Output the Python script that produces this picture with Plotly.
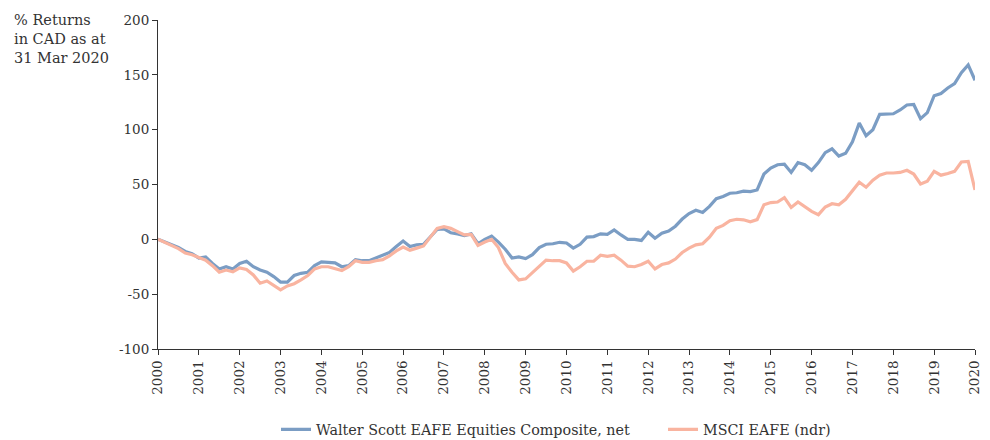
import plotly.graph_objects as go

# Bi-monthly observations, Jan 2000 .. Jan 2020 (decimal years)
years = [2000 + k / 6 for k in range(121)]

walter_scott = [
    0, -2.5, -5, -7.5, -11, -13,
    -17, -16, -22, -27, -25, -27,
    -22, -20, -25, -28, -30, -34,
    -39, -39, -33, -31, -30, -24,
    -20.5, -21, -21.5, -25, -24, -18.5,
    -19.5, -19.5, -17, -15, -12, -6.5,
    -1.5, -6.5, -5, -4.5, 2.5, 9,
    9.5, 6, 5, 3.5, 5, -4,
    0, 3, -2.5, -9, -17, -16,
    -17.5, -14, -7.5, -4.5, -4, -2.7,
    -3.3, -8, -4.5, 2, 2.5, 5,
    4.5, 8.5, 4, 0, 0, -1,
    6.5, 1, 5.5, 7.5, 12, 18.5,
    23.5, 26.5, 24.5, 30, 37, 39,
    42, 42.5, 44, 43.5, 45, 59.5,
    65, 68, 68.5, 61, 70, 68,
    63, 70, 79, 82.5, 76, 78.5,
    89, 106, 94.5, 100, 114, 114.5,
    114.5, 118, 122.5, 123, 110, 115.5,
    131, 133, 138, 142, 152, 159,
    145,
]

msci_eafe = [
    0, -3, -5.5, -8.5, -12.5, -14,
    -16.5, -19, -24, -30, -28, -29.5,
    -26, -27.5, -32.5, -40, -38, -42,
    -46, -42.5, -40.5, -37, -33, -27,
    -25, -25, -26.5, -28.5, -25, -19.5,
    -21, -21, -19.5, -18.5, -15, -10.5,
    -7, -10, -8, -6, 2, 10,
    11.5, 10, 7, 4, 4.5, -5.5,
    -2.5, 0, -7.5, -22, -30, -37,
    -36, -30, -25, -19, -19.5, -19.5,
    -21.5, -29, -25, -20, -20, -14.5,
    -15.5, -14.5, -19, -24.5, -25, -23,
    -20, -27, -23, -21.5, -18, -12,
    -8, -5, -4, 2, 10, 12.7,
    17, 18.3, 17.8, 16, 18, 31.5,
    33.5, 34, 38, 29, 34, 30,
    25.5, 22.5, 29.5, 32.5, 31.5, 36.5,
    44, 52, 47.5, 54, 58.5, 60.5,
    60.5, 61, 63, 59.5, 50.5, 53,
    62, 58.5, 60, 62, 70.5, 71,
    45,
]

x_ticks = list(range(2000, 2021))
y_ticks = [-100, -50, 0, 50, 100, 150, 200]
y_tick_text = ["-100", "-50", "0", "50", "100", "150", "200"]

series_names = ["Walter Scott EAFE Equities Composite, net", "MSCI EAFE (ndr)"]
series_colors = ["#7B9DC4", "#F9B4A0"]
legend_ids = ["legend", "legend2"]

FONT = "DejaVu Serif"
TEXT = "#333333"

fig = go.Figure()
for name, vals, col, lg in zip(series_names, [walter_scott, msci_eafe], series_colors, legend_ids):
    fig.add_trace(go.Scatter(
        x=years, y=vals, mode="lines", name=name, legend=lg,
        line=dict(color=col, width=3.2),
    ))

legend_style = dict(
    orientation="h", xanchor="left", y=-0.245, yanchor="middle",
    font=dict(family=FONT, size=14.3, color=TEXT),
    itemwidth=30, bgcolor="rgba(0,0,0,0)",
)

fig.update_layout(
    width=990, height=440,
    margin=dict(l=158, r=15, t=20, b=91, autoexpand=False),
    paper_bgcolor="white", plot_bgcolor="white",
    font=dict(family=FONT, size=13.5, color=TEXT),
    showlegend=True,
    legend=dict(x=(276 - 158) / 817, **legend_style),
    legend2=dict(x=(663 - 158) / 817, **legend_style),
    xaxis=dict(
        range=[2000, 2020], tickvals=x_ticks, ticktext=[str(t) for t in x_ticks],
        tickangle=-90, showgrid=False, zeroline=False,
        showline=True, linecolor="#333333", linewidth=1,
        ticks="outside", ticklen=5, tickcolor="#333333",
        tickfont=dict(family=FONT, size=13.5, color=TEXT),
    ),
    yaxis=dict(
        range=[-100, 200], tickvals=y_ticks, ticktext=y_tick_text,
        showgrid=False, zeroline=False,
        showline=True, linecolor="#333333", linewidth=1,
        ticks="outside", ticklen=5, tickcolor="#333333",
        tickfont=dict(family=FONT, size=13.5, color=TEXT),
    ),
    annotations=[dict(
        text="% Returns<br>in CAD as at<br>31 Mar 2020",
        xref="paper", yref="paper", x=-158 / 817 + 12 / 817, y=1 + 10 / 329,
        xanchor="left", yanchor="top", align="left", showarrow=False,
        font=dict(family=FONT, size=14.5, color=TEXT),
    )],
)

fig.write_html(
    "out.html",
    config={"displayModeBar": False},
    post_script="document.body.style.margin='0';document.body.style.padding='0';",
)
